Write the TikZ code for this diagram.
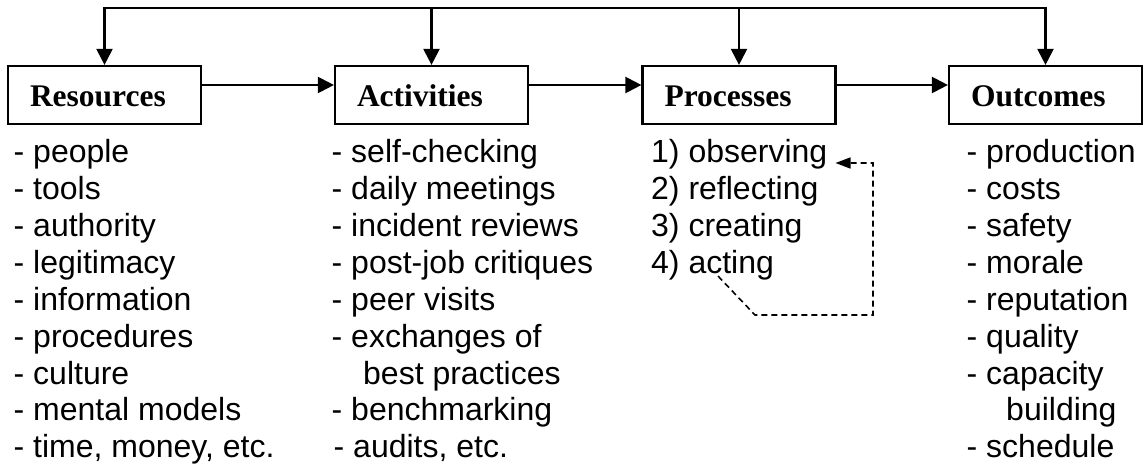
\documentclass[tikz,border=0pt]{standalone}
\usepackage{fontspec}
\setmainfont{Liberation Serif}
\newfontfamily\listfont{Liberation Sans}
\usetikzlibrary{arrows.meta,calc}
\begin{document}
\begin{tikzpicture}[x=1pt,y=-1pt,
  stagebox/.style={draw,line width=2.2pt,minimum width=193pt,minimum height=58pt,
    inner xsep=22pt,inner ysep=0pt,text width=149pt,align=left,
    text height=24pt,text depth=0pt,font=\fontsize{31.5}{36}\selectfont\bfseries},
  item/.style={anchor=base west,inner sep=0pt,font=\listfont\fontsize{32}{36}\selectfont},
  flow/.style={line width=2.2pt,-{Triangle[length=16pt,width=16pt]}},
  bothflow/.style={line width=2.2pt,{Triangle[length=16pt,width=16pt]}-{Triangle[length=16pt,width=16pt]}},
  loopback/.style={line width=1.6pt,dash pattern=on 6pt off 4pt,-{Triangle[length=15pt,width=11pt]}}]
\useasboundingbox (0,0) rectangle (1146,468);

% the four stages
\node[stagebox] (res) at (104.5,95) {Resources};
\node[stagebox] (act) at (431.5,95) {Activities};
\node[stagebox] (pro) at (739,95) {Processes};
\node[stagebox] (out) at (1045.5,95) {Outcomes};

% feedback bus along the top
\coordinate (bus) at (0,8);
\draw[bothflow] (res.north) -- (res.north |- bus) -- (out.north |- bus) -- (out.north);
\draw[flow] (act.north |- bus) -- (act.north);
\draw[flow] (pro.north |- bus) -- (pro.north);

% forward chain
\draw[flow] ([yshift=10pt]res.east) -- ([yshift=10pt]act.west);
\draw[flow] ([yshift=10pt]act.east) -- ([yshift=10pt]pro.west);
\draw[flow] ([yshift=10pt]pro.east) -- ([yshift=10pt]out.west);

% lists under each stage
\foreach \t [count=\i] in {people,tools,authority,legitimacy,information,
    procedures,culture,mental models,{time, money, etc.}}
  \node[item] (res\i) at (13.5,{163+36.85*(\i-1)}) {- \t};

\foreach \x/\t [count=\i] in {331.5/- self-checking,331.5/- daily meetings,
    331.5/- incident reviews,331.5/- post-job critiques,331.5/- peer visits,
    331.5/- exchanges of,363/best practices,331.5/- benchmarking,333.5/{- audits, etc.}}
  \node[item] (act\i) at (\x,{163+36.85*(\i-1)}) {\t};

\foreach \t [count=\i] in {1) observing,2) reflecting,3) creating,4) acting}
  \node[item] (pro\i) at (651,{163+36.85*(\i-1)}) {\t};

\foreach \x/\t [count=\i] in {966.5/- production,966.5/- costs,966.5/- safety,
    966.5/- morale,966.5/- reputation,966.5/- quality,966.5/- capacity,
    1006/building,966.5/- schedule}
  \node[item] (out\i) at (\x,{163+36.85*(\i-1)}) {\t};

% dashed loop from acting back to observing
\coordinate (turn) at (755,315);
\coordinate (side) at (873,315);
\draw[loopback] ($(pro4.base west)+(67,2.5)$) -- (turn) -- (side)
  |- ($(pro1.base east)+(8,0)$);
\end{tikzpicture}
\end{document}
